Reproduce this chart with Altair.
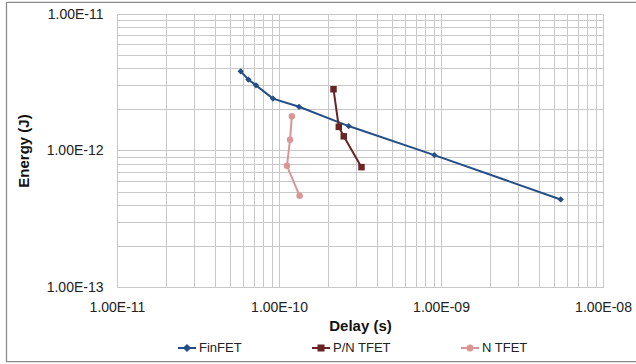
import altair as alt
import pandas as pd

# ---- data ----
series_names = ["FinFET", "P/N TFET", "N TFET"]
series_colors = ["#254E87", "#6B2424", "#D99694"]

finfet_delay = [5.80e-11, 6.47e-11, 7.21e-11, 9.18e-11, 1.33e-10, 2.69e-10, 9.10e-10, 5.48e-9]
finfet_energy = [3.80e-12, 3.31e-12, 3.00e-12, 2.40e-12, 2.09e-12, 1.51e-12, 9.25e-13, 4.38e-13]

pn_delay = [2.17e-10, 2.34e-10, 2.51e-10, 3.23e-10]
pn_energy = [2.81e-12, 1.49e-12, 1.27e-12, 7.55e-13]

n_delay = [1.20e-10, 1.17e-10, 1.12e-10, 1.34e-10]
n_energy = [1.78e-12, 1.20e-12, 7.73e-13, 4.66e-13]

x_ticks = [m * 10.0 ** e for e in (-11, -10, -9) for m in range(1, 10)] + [1e-8]
y_ticks = [m * 10.0 ** e for e in (-13, -12) for m in range(1, 10)] + [1e-11]

rows = []
for name, xs, ys in [("FinFET", finfet_delay, finfet_energy),
                     ("P/N TFET", pn_delay, pn_energy),
                     ("N TFET", n_delay, n_energy)]:
    for i, (xv, yv) in enumerate(zip(xs, ys)):
        rows.append({"Series": name, "Delay": xv, "Energy": yv, "idx": i})
df = pd.DataFrame(rows)

FONT = "Liberation Sans"
W, H = 486, 273
PL, PT = 117, 14

label_expr = ("abs(log(datum.value)/LN10 - round(log(datum.value)/LN10)) < 0.001 ? "
              "'1.00E-' + (abs(round(log(datum.value)/LN10)) < 10 ? '0' : '') + "
              "abs(round(log(datum.value)/LN10)) : ''")

x_enc = alt.X("Delay:Q", scale=alt.Scale(type="log", domain=[1e-11, 1e-8], nice=False),
              axis=alt.Axis(title="Delay (s)", values=x_ticks, labelExpr=label_expr,
                            ticks=False, domain=False, labelFlush=False, labelOverlap=False,
                            labelPadding=20, labelBaseline="middle", labelFontSize=14,
                            labelFont=FONT, labelColor="#222222",
                            titleFont=FONT, titleFontSize=15, titleFontWeight="bold",
                            titleColor="#111111", titleY=38, titleBaseline="middle",
                            grid=True, gridColor="#C8C8C8", gridWidth=1))
y_enc = alt.Y("Energy:Q", scale=alt.Scale(type="log", domain=[1e-13, 1e-11], nice=False),
              axis=alt.Axis(title="Energy (J)", values=y_ticks, labelExpr=label_expr,
                            ticks=False, domain=False, labelFlush=False, labelOverlap=False,
                            labelPadding=14, labelFontSize=14,
                            labelFont=FONT, labelColor="#222222",
                            titleFont=FONT, titleFontSize=15, titleFontWeight="bold",
                            titleColor="#111111", titleX=-94, titleY=H / 2,
                            titleAngle=270, titleAlign="center", titleBaseline="middle",
                            grid=True, gridColor="#C8C8C8", gridWidth=1))

base = alt.Chart(df)

marker_shapes = {"FinFET": "diamond", "P/N TFET": "square", "N TFET": "circle"}
marker_sizes = {"FinFET": 40, "P/N TFET": 42, "N TFET": 42}
series_layers = []
for k, (name, col) in enumerate(zip(series_names, series_colors)):
    sub = base.transform_filter(alt.datum.Series == name)
    if k == 0:
        line = sub.mark_line(strokeWidth=2, color=col).encode(x=x_enc, y=y_enc, order="idx:Q")
    else:
        line = sub.mark_line(strokeWidth=2, color=col).encode(x="Delay:Q", y="Energy:Q",
                                                              order="idx:Q")
    pts = sub.mark_point(filled=True, shape=marker_shapes[name], size=marker_sizes[name],
                         color=col, opacity=1).encode(x="Delay:Q", y="Energy:Q")
    series_layers += [line, pts]

legend_paths = [
    "M-1,0L1,0M-0.3,0L0,-0.3L0.3,0L0,0.3Z",
    "M-1,0L1,0M-0.28,-0.28L0.28,-0.28L0.28,0.28L-0.28,0.28Z",
    "M-1,0L1,0M0.28,0A0.28,0.28,0,1,1,-0.28,0A0.28,0.28,0,1,1,0.28,0Z",
]
leg = alt.Legend(title=None)
legend_layer = base.mark_point(filled=True, size=324, opacity=0).encode(
    x="Delay:Q", y="Energy:Q",
    fill=alt.Fill("Series:N", scale=alt.Scale(domain=series_names, range=series_colors),
                  legend=leg),
    stroke=alt.Stroke("Series:N", scale=alt.Scale(domain=series_names, range=series_colors),
                      legend=leg),
    shape=alt.Shape("Series:N", scale=alt.Scale(domain=series_names, range=legend_paths),
                    legend=leg),
)

frame = alt.Chart(alt.Data(values=[{"a": 1}])).mark_rect(
    filled=False, stroke="#8C8C8C", strokeWidth=1.3
).encode(
    x=alt.value(6.5 - PL), x2=alt.value(640 - PL),
    y=alt.value(2.3 - PT), y2=alt.value(361.7 - PT),
)

chart = alt.layer(*series_layers, legend_layer, frame).properties(
    width=W, height=H,
    autosize=alt.AutoSizeParams(type="none"),
    padding={"left": PL, "top": PT, "right": 636 - PL - W, "bottom": 364 - PT - H},
    background="white",
).configure_view(stroke="#C8C8C8").configure_legend(
    orient="none", legendX=60, legendY=324, direction="horizontal",
    labelFont=FONT, labelFontSize=13, labelColor="#222222", labelOffset=2,
    symbolSize=324, symbolStrokeWidth=2, columnPadding=66, padding=0,
    symbolOpacity=1,
)

chart.save("out.html", embed_options={"renderer": "svg", "actions": False})
